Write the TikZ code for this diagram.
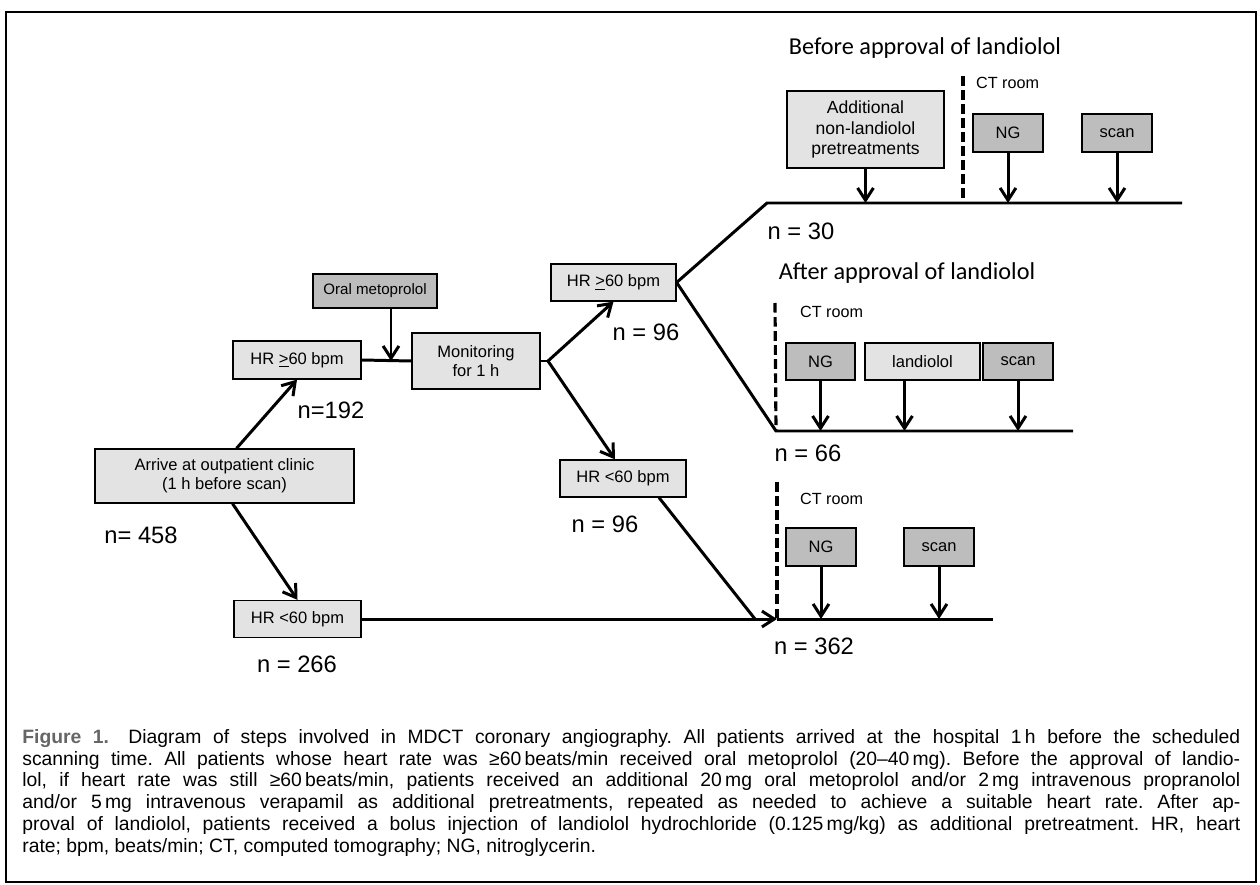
\documentclass[tikz,border=0pt]{standalone}
\usepackage{fontspec}
\setmainfont{Liberation Sans}
\newfontfamily\titlefont{Carlito}
\usetikzlibrary{positioning, calc}
\usetikzlibrary{arrows.meta}

\begin{document}
\begin{tikzpicture}[x=0.02cm,y=-0.02cm,draw=black!100]
	\def \pu{0.02cm}
	\def \rowbefore{203}
	\def \rowafter{431}
	\def \rowlow{619}
	\tikzstyle{lt-node}=[draw=black,line width=0.7pt,fill=black!11,align=center,inner sep=1pt,font=\fontsize{9.4}{11}\selectfont]
	\tikzstyle{dk-node}=[lt-node,fill=black!26]
	\tikzstyle{n-lbl}=[font=\fontsize{13.5}{15}\selectfont]
	\tikzstyle{ct-lbl}=[anchor=west,font=\fontsize{9.2}{10}\selectfont]
	\tikzstyle{t-lbl}=[font=\titlefont\fontsize{13.8}{15}\selectfont]
	\tikzstyle{flow}=[line width=1.7pt]
	\tikzstyle{arr}=[flow,-{Straight Barb[length=7pt,width=9pt]}]
	\tikzstyle{ct-line}=[line width=1.8pt,dash pattern=on 5.5pt off 2.5pt]
	\useasboundingbox (0,0) rectangle (1260,885);
	\draw[line width=1.1pt] (6,12) rectangle (1256,882);

	% outpatient clinic
	\node[lt-node,minimum width=259*\pu,minimum height=54*\pu] (arrive) at (224.5,476) {Arrive at outpatient clinic\\(1 h before scan)};
	\node[lt-node,minimum width=128*\pu,minimum height=38*\pu] (hrhiA) at (297,360) {HR \underline{>}60 bpm};
	\node[lt-node,minimum width=127*\pu,minimum height=37*\pu] (hrloA) at (297.5,619) {HR <60 bpm};
	\node[dk-node,minimum width=124*\pu,minimum height=34*\pu,font=\fontsize{8.6}{10}\selectfont] (oral) at (375,291) {Oral metoprolol};
	\node[lt-node,minimum width=128*\pu,minimum height=56*\pu] (monitor) at (476,361) {Monitoring\\for 1 h};
	\node[lt-node,minimum width=125*\pu,minimum height=37*\pu] (hrhiB) at (613.5,282.5) {HR \underline{>}60 bpm};
	\node[lt-node,minimum width=126*\pu,minimum height=37*\pu] (hrloB) at (623,478.5) {HR <60 bpm};

	% before approval
	\node[t-lbl] (before) at (925,48) {Before approval of landiolol};
	\node[lt-node,minimum width=157*\pu,minimum height=77*\pu,font=\fontsize{10}{11.5}\selectfont] (addl) at (865.5,129.5) {Additional\\non-landiolol\\pretreatments};
	\node[dk-node,minimum width=70*\pu,minimum height=38*\pu] (ngA) at (1008,133) {NG};
	\node[dk-node,minimum width=70*\pu,minimum height=38*\pu] (scanA) at (1117,133) {scan};
	\node[ct-lbl] (ctA) at (970,83) {CT room};

	% after approval
	\node[t-lbl] (after) at (907,273) {After approval of landiolol};
	\node[dk-node,minimum width=69*\pu,minimum height=37*\pu] (ngB) at (820.5,361.5) {NG};
	\node[lt-node,minimum width=115*\pu,minimum height=37*\pu] (landB) at (922.5,361.5) {landiolol};
	\node[dk-node,minimum width=70*\pu,minimum height=37*\pu] (scanB) at (1018,361.5) {scan};
	\node[ct-lbl] (ctB) at (794,312) {CT room};

	% no pretreatment
	\node[dk-node,minimum width=70*\pu,minimum height=38*\pu] (ngC) at (821,547) {NG};
	\node[dk-node,minimum width=70*\pu,minimum height=38*\pu] (scanC) at (939,547) {scan};
	\node[ct-lbl] (ctC) at (794,499) {CT room};

	% counts
	\node[n-lbl] (n458) at (141,535) {n= 458};
	\node[n-lbl] (n192) at (331,410) {n=192};
	\node[n-lbl] (n266) at (297,664) {n = 266};
	\node[n-lbl] (n96a) at (646,332) {n = 96};
	\node[n-lbl] (n96b) at (605,524) {n = 96};
	\node[n-lbl] (n30) at (801,231) {n = 30};
	\node[n-lbl] (n66) at (808,453) {n = 66};
	\node[n-lbl] (n362) at (814,646) {n = 362};

	% junctions
	\coordinate (jmon) at (391,361);
	\coordinate (fork) at (548,361);
	\coordinate (bstart) at (767,\rowbefore);
	\coordinate (bend) at (1182,\rowbefore);
	\coordinate (astart) at (776,\rowafter);
	\coordinate (aend) at (1073,\rowafter);
	\coordinate (ldiag) at (755,\rowlow);
	\coordinate (lmeet) at (777,\rowlow);
	\coordinate (lend) at (993,\rowlow);

	\draw[arr] ([xshift=12*\pu]arrive.north) -- (hrhiA.south);
	\draw[arr] ([xshift=8*\pu]arrive.south) -- (hrloA.north);
	\draw[flow] (hrhiA.east) -- (monitor.west);
	\draw[arr] ([xshift=16*\pu]oral.south) -- (jmon);
	\draw[flow] (monitor.east) -- (fork);
	\draw[arr] (fork) -- (hrhiB.south);
	\draw[arr] (fork) -- ([xshift=-8*\pu]hrloB.north);
	\draw[flow] (hrhiB.east) -- (bstart) -- (bend);
	\draw[flow] (hrhiB.east) -- (astart) -- (aend);
	\draw[flow] ([xshift=36*\pu]hrloB.south) -- (ldiag);
	\draw[arr] (hrloA.east) -- (lmeet);
	\draw[flow] (lmeet) -- (lend);

	\draw[arr] (addl) -- (addl |- bstart);
	\draw[arr] (ngA) -- (ngA |- bstart);
	\draw[arr] (scanA) -- (scanA |- bstart);
	\draw[arr] (ngB) -- (ngB |- astart);
	\draw[arr] ([xshift=-18*\pu]landB.south) -- ([xshift=-18*\pu]landB.south |- astart);
	\draw[arr] (scanB) -- (scanB |- astart);
	\draw[arr] (ngC) -- (ngC |- lmeet);
	\draw[arr] (scanC) -- (scanC |- lmeet);

	% CT room borders
	\draw[ct-line] (963,76) -- (963,\rowbefore);
	\draw[ct-line] (775,303) -- (astart);
	\draw[ct-line] (777,482) -- (lmeet);

	% caption
	\node[anchor=north west,inner sep=0pt,text width=1218*\pu,align=justify,font=\fontsize{11}{12.4}\selectfont] (caption) at (22,729)
	{\frenchspacing\hyphenpenalty=10000 {\bfseries\color{black!60}Figure 1.}\quad Diagram of steps involved in MDCT coronary angiography. All patients arrived at the hospital 1\,h before the scheduled\linebreak
	scanning time. All patients whose heart rate was ≥60\,beats/min received oral metoprolol (20–40\,mg). Before the approval of landio-\linebreak
	lol, if heart rate was still ≥60\,beats/min, patients received an additional 20\,mg oral metoprolol and/or 2\,mg intravenous propranolol\linebreak
	and/or 5\,mg intravenous verapamil as additional pretreatments, repeated as needed to achieve a suitable heart rate. After ap-\linebreak
	proval of landiolol, patients received a bolus injection of landiolol hydrochloride (0.125\,mg/kg) as additional pretreatment. HR, heart\linebreak
	rate; bpm, beats/min; CT, computed tomography; NG, nitroglycerin.};
\end{tikzpicture}
\end{document}
